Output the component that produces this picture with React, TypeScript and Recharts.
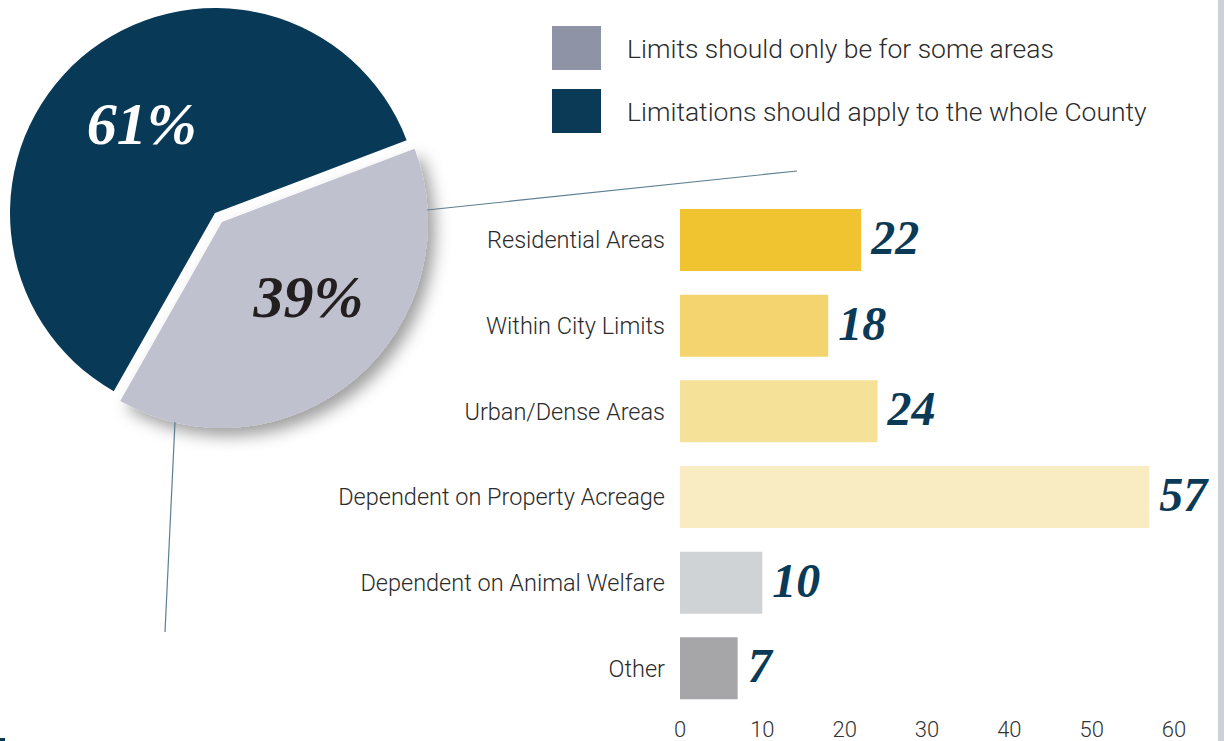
import React from "react";
import { PieChart, Pie, Cell, BarChart, Bar, XAxis, YAxis, LabelList } from "recharts";

// pie: should limits apply county-wide?
const shareNames = ["Limitations should apply to the whole County", "Limits should only be for some areas"];
const shareValues = [61, 39];
const sliceColors = ["#083A57", "#BFC1CE"];
const legendColors = ["#0A3A56", "#8E93A6"];
const labelColors = ["#FFFFFF", "#231F20"];

// bars: where limits should apply
const categories = [
    "Residential Areas",
    "Within City Limits",
    "Urban/Dense Areas",
    "Dependent on Property Acreage",
    "Dependent on Animal Welfare",
    "Other",
];
const counts = [22, 18, 24, 57, 10, 7];
const barColors = ["#F0C430", "#F3D46F", "#F6E199", "#F9ECC3", "#CFD3D6", "#A6A6A8"];
const xTicks = [0, 10, 20, 30, 40, 50, 60];

const W = 1224;
const H = 741;
const START = 20.8;
const RADIAN = Math.PI / 180;
const numberFont = "'Liberation Serif', 'DejaVu Serif', serif";

// label sits a bit off the mid angle, like the original layout
const pieLabel = (color: string, turn: number) => (props: any) => {
    const { cx, cy, midAngle, outerRadius, value } = props;
    const r = outerRadius * 0.56;
    const a = (midAngle + turn) * RADIAN;
    const x = cx + r * Math.cos(-a);
    const y = cy + r * Math.sin(-a);
    return (
        <text x={x} y={y + 19} textAnchor="middle" fill={color} fontFamily={numberFont} fontWeight={700} fontStyle="italic" fontSize={60}>
            {value}%
        </text>
    );
};

const barValue = (props: any) => {
    const { x, y, width, height, value } = props;
    return (
        <text x={x + width + 10} y={y + height / 2 + 14} fill="#0B3A57" fontFamily={numberFont} fontWeight={700} fontStyle="italic" fontSize={48}>
            {value}
        </text>
    );
};

export default function App() {
    const barData = categories.map((c, i) => ({ category: c, count: counts[i] }));
    const total = shareValues.reduce((a, b) => a + b, 0);
    const darkEnd = START + (360 * shareValues[0]) / total;
    const darkData = [{ name: shareNames[0], value: shareValues[0] }];
    const lightData = [{ name: shareNames[1], value: shareValues[1] }];

    return (
        <div style={{ position: "absolute", left: 0, top: 0, width: W, height: H, background: "#fff", fontFamily: "Roboto, sans-serif", overflow: "hidden" }}>
            <svg width={0} height={0} style={{ position: "absolute" }}>
                <defs>
                    <filter id="sliceShadow" x="-20%" y="-20%" width="150%" height="150%">
                        <feDropShadow dx={7} dy={8} stdDeviation={8} floodColor="#000" floodOpacity={0.38} />
                    </filter>
                </defs>
            </svg>

            <div style={{ position: "absolute", left: 0, top: 0 }}>
                <BarChart
                    width={W}
                    height={H}
                    data={barData}
                    layout="vertical"
                    margin={{ top: 197, right: 50, bottom: 0, left: 0 }}
                    barSize={62}
                >
                    <XAxis
                        type="number"
                        domain={[0, 60]}
                        ticks={xTicks}
                        axisLine={false}
                        tickLine={false}
                        height={30}
                        tickMargin={4}
                        tick={{ fontSize: 22, fill: "#333", fontWeight: 300 }}
                    />
                    <YAxis
                        type="category"
                        dataKey="category"
                        width={680}
                        axisLine={false}
                        tickLine={false}
                        tickMargin={9}
                        tick={{ fontSize: 23.5, fill: "#2b2b2b", fontWeight: 300 }}
                    />
                    <Bar dataKey="count" isAnimationActive={false}>
                        {barData.map((d, i) => (
                            <Cell key={d.category} fill={barColors[i]} />
                        ))}
                        <LabelList dataKey="count" content={barValue} />
                    </Bar>
                </BarChart>
            </div>

            <div style={{ position: "absolute", left: 0, top: 0 }}>
                <PieChart width={460} height={460} margin={{ top: 0, right: 0, bottom: 0, left: 0 }}>
                    <Pie
                        data={lightData}
                        dataKey="value"
                        nameKey="name"
                        cx={222}
                        cy={222}
                        outerRadius={206}
                        startAngle={darkEnd}
                        endAngle={START + 360}
                        stroke="none"
                        labelLine={false}
                        label={pieLabel(labelColors[1], 8)}
                        isAnimationActive={false}
                    >
                        <Cell fill={sliceColors[1]} filter="url(#sliceShadow)" />
                    </Pie>
                    <Pie
                        data={darkData}
                        dataKey="value"
                        nameKey="name"
                        cx={215}
                        cy={213}
                        outerRadius={205}
                        startAngle={START}
                        endAngle={darkEnd}
                        stroke="none"
                        labelLine={false}
                        label={pieLabel(labelColors[0], -1)}
                        isAnimationActive={false}
                    >
                        <Cell fill={sliceColors[0]} />
                    </Pie>
                </PieChart>
            </div>

            {/* legend */}
            <div style={{ position: "absolute", left: 552, top: 26 }}>
                {[1, 0].map((i, k) => (
                    <div key={i} style={{ display: "flex", alignItems: "center", height: 44, marginBottom: k === 0 ? 19 : 0 }}>
                        <div style={{ width: 49, height: 44, background: legendColors[i] }} />
                        <span style={{ marginLeft: 26, fontSize: 26.5, fontWeight: 300, color: "#2b2b2b", whiteSpace: "nowrap" }}>
                            {shareNames[i]}
                        </span>
                    </div>
                ))}
            </div>

            {/* connector lines and page edge */}
            <svg width={W} height={H} style={{ position: "absolute", left: 0, top: 0, pointerEvents: "none" }}>
                <line x1={427} y1={210} x2={797} y2={171} stroke="#5E7F93" strokeWidth={1.2} />
                <line x1={175} y1={422} x2={165} y2={632} stroke="#5E7F93" strokeWidth={1.2} />
                <rect x={1218} y={0} width={6} height={H} fill="#CDD1D5" />
                <rect x={0} y={738} width={5} height={3} fill="#0A3A56" />
            </svg>
        </div>
    );
}
